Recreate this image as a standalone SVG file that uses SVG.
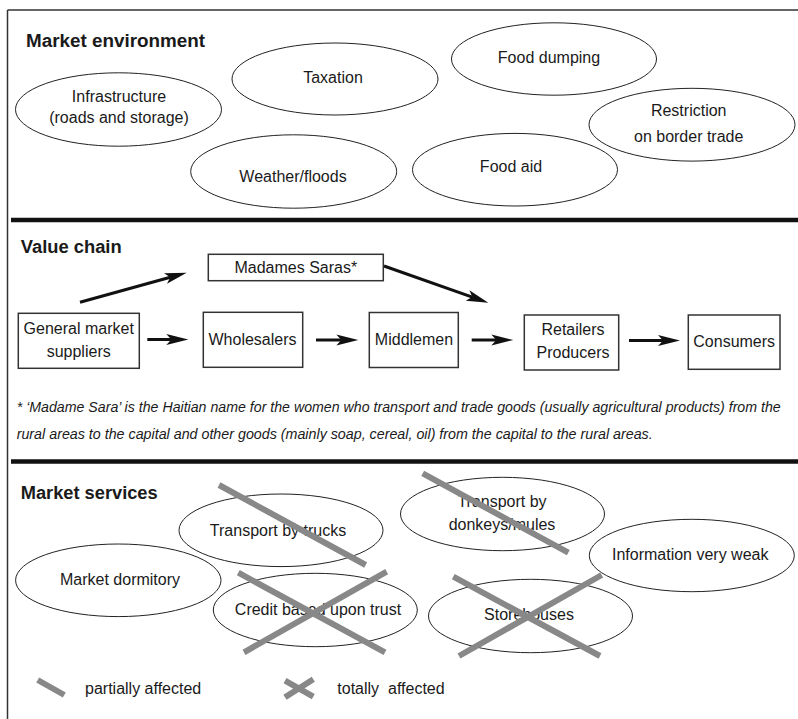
<svg xmlns="http://www.w3.org/2000/svg" width="798" height="719" viewBox="0 0 798 719">
<style>
text{font-family:"Liberation Sans",Arial,sans-serif;fill:#1a1a1a;font-size:16px}
.t{text-anchor:middle}
.h{font-weight:bold;font-size:18px}
.fn{font-style:italic;font-size:14px}
.el{fill:#fff;stroke:#222;stroke-width:1}
.bx{fill:#fff;stroke:#333;stroke-width:1.5}
.sep{stroke:#111;stroke-width:4.5}
.ar{stroke:#111;stroke-width:3;fill:none;marker-end:url(#ah)}
.st{stroke:#888;stroke-width:6;stroke-linecap:butt}
</style>
<defs>
<marker id="ah" markerUnits="userSpaceOnUse" markerWidth="24" markerHeight="12" refX="5" refY="5.5" orient="auto" overflow="visible">
<path d="M0,0 L22,5.5 L0,11 L5,5.5 z" fill="#111"/>
</marker>
</defs>
<rect width="798" height="719" fill="#fff"/>
<g id="frame">
<line x1="7.5" y1="10" x2="798" y2="10" stroke="#333" stroke-width="1.5"/>
<line x1="7.5" y1="10" x2="7.5" y2="719" stroke="#333" stroke-width="1.5"/>
<line class="sep" x1="11" y1="220" x2="798" y2="220"/>
<line class="sep" x1="11" y1="461.5" x2="798" y2="461.5"/>
</g>
<text id="title-env" class="h" x="26" y="47" font-size="19" textLength="179" lengthAdjust="spacingAndGlyphs">Market environment</text>
<g id="infrastructure"><ellipse class="el" cx="118.5" cy="109.5" rx="103" ry="36.7"/><text class="t" x="119" y="101.7">Infrastructure</text><text class="t" x="119" y="123">(roads and storage)</text></g>
<g id="taxation"><ellipse class="el" cx="335" cy="79" rx="103" ry="36"/><text class="t" x="333" y="82.7">Taxation</text></g>
<g id="weather"><ellipse class="el" cx="293.7" cy="171.5" rx="103" ry="36.7"/><text class="t" x="293" y="182">Weather/floods</text></g>
<g id="dumping"><ellipse class="el" cx="554" cy="59" rx="102.5" ry="36.2"/><text class="t" x="549" y="62.7">Food dumping</text></g>
<g id="restriction"><ellipse class="el" cx="692" cy="124.7" rx="103" ry="36.4"/><text class="t" x="688.7" y="116">Restriction</text><text class="t" x="688.7" y="141.7">on border trade</text></g>
<g id="foodaid"><ellipse class="el" cx="515" cy="169.7" rx="102.5" ry="36.3"/><text class="t" x="511" y="171.7">Food aid</text></g>

<text id="title-vc" class="h" x="20.7" y="253.3" textLength="101" lengthAdjust="spacingAndGlyphs">Value chain</text>
<g id="madames"><rect class="bx" x="208.3" y="254.3" width="175" height="26.4"/><text class="t" x="295.8" y="272.7">Madames Saras*</text></g>
<g id="suppliers"><rect class="bx" x="18.3" y="313.3" width="121" height="55"/><text class="t" x="78.7" y="334">General market</text><text class="t" x="78.7" y="356.7">suppliers</text></g>
<g id="wholesalers"><rect class="bx" x="203.3" y="312.3" width="99.4" height="55"/><text class="t" x="252.5" y="345">Wholesalers</text></g>
<g id="middlemen"><rect class="bx" x="369.3" y="312.5" width="89" height="55"/><text class="t" x="414" y="345">Middlemen</text></g>
<g id="retailers"><rect class="bx" x="524.3" y="315" width="94.4" height="55"/><text class="t" x="573" y="335">Retailers</text><text class="t" x="573" y="358.3">Producers</text></g>
<g id="consumers"><rect class="bx" x="688.3" y="315" width="91.7" height="54.3"/><text class="t" x="734.2" y="346.7">Consumers</text></g>
<g id="connectors">
<line class="ar" x1="80" y1="302.3" x2="170.3" y2="277.2"/>
<line class="ar" x1="384" y1="266" x2="472.3" y2="297.1"/>
<line class="ar" x1="147.3" y1="339.5" x2="171.3" y2="339.5"/>
<line class="ar" x1="316" y1="340" x2="341.3" y2="340"/>
<line class="ar" x1="471.7" y1="340" x2="496.3" y2="340"/>
<line class="ar" x1="629" y1="340.5" x2="663" y2="340.5"/>
</g>
<g id="footnote">
<text class="fn" x="16.7" y="412.3" textLength="764" lengthAdjust="spacingAndGlyphs">* ‘Madame Sara’ is the Haitian name for the women who transport and trade goods (usually agricultural products) from the</text>
<text class="fn" x="16.7" y="439" textLength="636" lengthAdjust="spacingAndGlyphs">rural areas to the capital and other goods (mainly soap, cereal, oil) from the capital to the rural areas.</text>
</g>

<text id="title-ms" class="h" x="20.7" y="499.3" textLength="137" lengthAdjust="spacingAndGlyphs">Market services</text>
<g id="trucks"><ellipse class="el" cx="281" cy="530.3" rx="102" ry="36.3"/><text class="t" x="278" y="535.7">Transport by trucks</text></g>
<g id="dormitory"><ellipse class="el" cx="118.3" cy="580.3" rx="102.7" ry="36.3"/><text class="t" x="120" y="585">Market dormitory</text></g>
<g id="credit"><ellipse class="el" cx="315.3" cy="610" rx="102" ry="36.7"/><text class="t" x="318" y="615">Credit based upon trust</text></g>
<g id="donkeys"><ellipse class="el" cx="502.5" cy="514" rx="102" ry="36.7"/><text class="t" x="502" y="506.7">Transport by</text><text class="t" x="502" y="530">donkeys/mules</text></g>
<g id="information"><ellipse class="el" cx="691.8" cy="555.5" rx="102.5" ry="36.2"/><text class="t" x="690.2" y="560">Information very weak</text></g>
<g id="storehouses"><ellipse class="el" cx="530.5" cy="616" rx="102" ry="36.7"/><text class="t" x="529" y="620">Storehouses</text></g>
<g id="strikes">
<line class="st" x1="219" y1="485" x2="365.7" y2="565"/>
<line class="st" x1="238.3" y1="572.7" x2="385" y2="652.3"/>
<line class="st" x1="386.7" y1="571.7" x2="244" y2="652.3"/>
<line class="st" x1="422.7" y1="473.3" x2="568.3" y2="552.7"/>
<line class="st" x1="453.3" y1="576.7" x2="600" y2="656"/>
<line class="st" x1="601.7" y1="575" x2="459" y2="656"/>
</g>
<g id="legend">
<line class="st" x1="37.7" y1="680" x2="64.3" y2="695"/>
<text x="85" y="694">partially affected</text>
<line class="st" x1="285" y1="680.7" x2="313.3" y2="696.7"/>
<line class="st" x1="313.3" y1="679.3" x2="285" y2="697.3"/>
<text x="337.3" y="694" xml:space="preserve">totally  affected</text>
</g>
</svg>
